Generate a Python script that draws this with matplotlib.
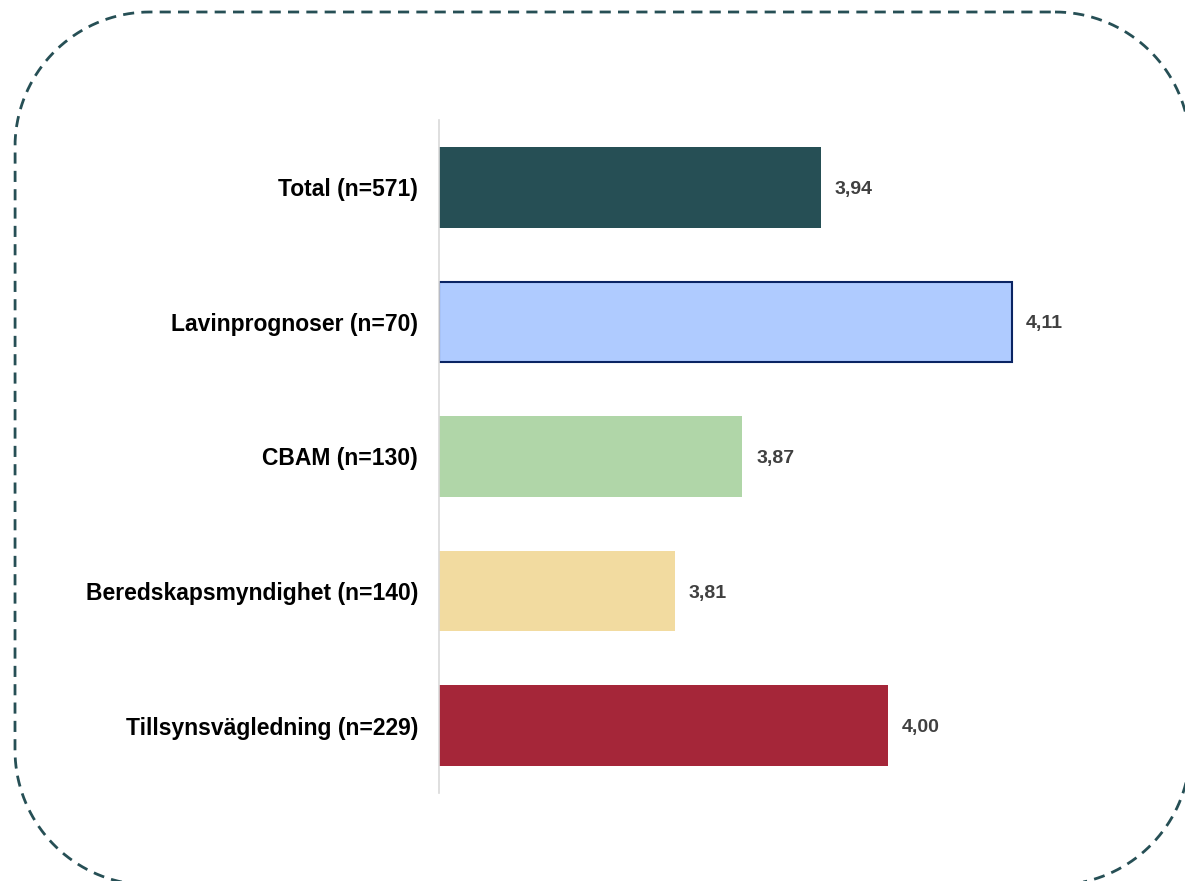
import numpy as np
import matplotlib
matplotlib.use('Agg')
import matplotlib.pyplot as plt
from matplotlib.lines import Line2D

plt.rcParams['font.family'] = ['Liberation Sans', 'DejaVu Sans']

categories = ['Total (n=571)', 'Lavinprognoser (n=70)', 'CBAM (n=130)',
              'Beredskapsmyndighet (n=140)', 'Tillsynsvägledning (n=229)']
values = [3.94, 4.11, 3.87, 3.81, 4.00]
value_labels = ['3,94', '4,11', '3,87', '3,81', '4,00']
colors = ['#264F55', '#AFCBFF', '#B0D6A8', '#F2DBA0', '#A52639']
edges = ['#264F55', '#0A2463', '#B0D6A8', '#F2DBA0', '#A52639']

W, H = 1185, 881
fig = plt.figure(figsize=(W / 100, H / 100), dpi=100)
ax = fig.add_axes([439 / W, 1 - 793 / H, (1113 - 439) / W, (793 - 120) / H])

xmin = 3.6
y = list(range(len(categories)))
for i in y:
    lw = 1.5 if i == 1 else 0
    ax.barh(i, values[i] - xmin, left=xmin, height=0.6, color=colors[i],
            edgecolor=edges[i], linewidth=lw)
    ax.annotate(value_labels[i], (values[i], i), xytext=(10, -1.5),
                textcoords='offset points', va='center', ha='left',
                fontsize=14, fontweight='bold', color='#404040')

ax.set_xlim(xmin, 4.2)
ax.set_ylim(len(categories) - 0.5, -0.5)
ax.set_yticks(y)
ax.set_yticklabels(categories, fontsize=16.5, fontweight='bold', color='black')
ax.tick_params(axis='y', length=0, pad=15)
ax.set_xticks([])
for s in ['top', 'right', 'bottom']:
    ax.spines[s].set_visible(False)
ax.spines['left'].set_color('#D9D9D9')
ax.spines['left'].set_linewidth(1.2)


# dashed rounded frame (pixel coords), runs past the right and bottom edges
def rounded_rect(x0, y0, x1, y1, r, n=40):
    pts = []
    corners = [(x1 - r, y0 + r, -90, 0), (x1 - r, y1 - r, 0, 90),
               (x0 + r, y1 - r, 90, 180), (x0 + r, y0 + r, 180, 270)]
    for cx, cy, a0, a1 in corners:
        t = np.radians(np.linspace(a0, a1, n))
        pts += list(zip(cx + r * np.cos(t), cy + r * np.sin(t)))
    pts.append(pts[0])
    xs, ys = zip(*pts)
    return np.array(xs), np.array(ys)


fx, fy = rounded_rect(15, 12, 1190, 885, 135)
frame = Line2D(fx / W, 1 - fy / H, transform=fig.transFigure, color='#264F55',
               linewidth=2, linestyle=(0, (4, 2.6)), clip_on=False)
fig.add_artist(frame)

fig.savefig('out.png', dpi=100)
